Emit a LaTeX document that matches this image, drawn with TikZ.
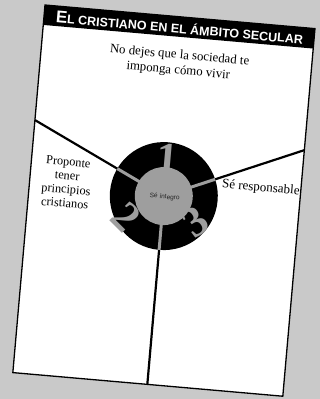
\documentclass[tikz,border=0pt]{standalone}
\usepackage{fontspec}
\setmainfont{Liberation Serif}
\newfontfamily\titlefont{Liberation Sans}
\usetikzlibrary{calc}
\definecolor{bggray}{RGB}{201,201,201}
\definecolor{midgray}{RGB}{158,158,158}
\begin{document}
\begin{tikzpicture}[x=1pt,y=-1pt,
  bodytext/.style={font=\fontsize{12.3}{13.8}\selectfont, inner sep=0pt, align=center},
  digit/.style={font=\bfseries\fontsize{43}{43}\selectfont, text=midgray, inner sep=0pt},
  spoke/.style={line width=2.2pt, black},
  innerspoke/.style={line width=3pt, midgray}]
\fill[bggray] (0,0) rectangle (320,399);
\useasboundingbox (0,0) rectangle (320,399);
\begin{scope}[shift={(45,5)}, rotate=-5, transform shape]
  \fill[white] (0,0) rectangle (271,369);
  \fill[black] (0,0) rectangle (271,20);
  \node[text=white, font=\titlefont\bfseries\fontsize{12.5}{12.5}\selectfont, inner sep=0pt, anchor=base] (title) at (136,16.5)
    {{\fontsize{17}{17}\selectfont E}L CRISTIANO EN EL ÁMBITO SECULAR};
  \coordinate (c) at (135,180);
  \coordinate (pl) at (0,115.5);
  \coordinate (pr) at (271,122);
  \coordinate (pb) at (135,369);
  \draw[spoke] (c) -- (pl);
  \draw[spoke] (c) -- (pr);
  \draw[spoke] (c) -- (pb);
  \fill[black] (c) circle[radius=54pt];
  \draw[innerspoke] (c) -- ($(c)!54pt!(pl)$);
  \draw[innerspoke] (c) -- ($(c)!54pt!(pr)$);
  \draw[innerspoke] (c) -- ($(c)!54pt!(pb)$);
  \fill[midgray] (c) circle[radius=29pt];
  \node[digit] (d1) at (135,142) {1};
  \node[digit, rotate=-40] (d2) at (99,204) {2};
  \node[digit, rotate=40] (d3) at (169,203) {3};
  \node[font=\titlefont\fontsize{6.5}{6.5}\selectfont, text=black!85, inner sep=0pt] (centro) at (136,181) {Sé íntegro};
  \node[bodytext, font=\fontsize{12.8}{15.5}\selectfont] (head) at (138.5,46.5) {No dejes que la sociedad te\\imponga cómo vivir};
  \node[bodytext] (left) at (37,175) {Proponte\\tener\\principios\\cristianos};
  \node[bodytext, font=\fontsize{13}{15}\selectfont] (right) at (231,163.5) {Sé responsable};
  \draw[black, line width=1.3pt] (0,0) rectangle (271,369);
\end{scope}
\end{tikzpicture}
\end{document}
